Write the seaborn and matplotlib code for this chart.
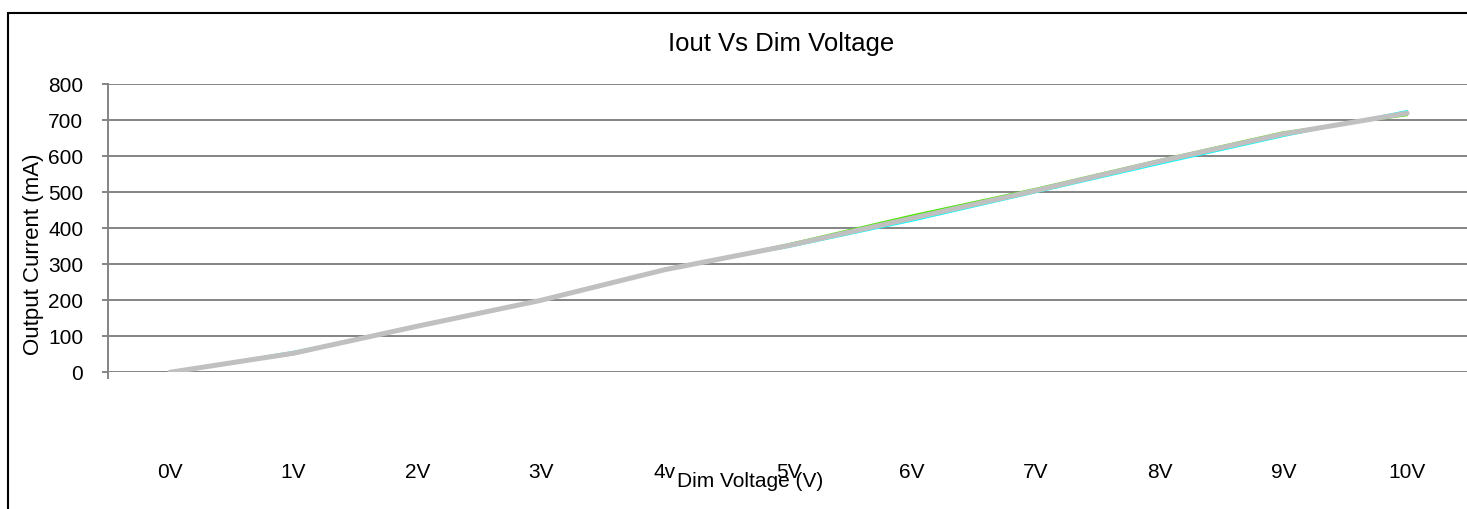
import numpy as np
import pandas as pd
import matplotlib
matplotlib.use("Agg")
import matplotlib.pyplot as plt
import matplotlib.patches as mpatches
import seaborn as sns

# ---- data ----
categories = ["0V", "1V", "2V", "3V", "4v", "5V", "6V", "7V", "8V", "9V", "10V"]
series_green = [0, 50, 131, 198, 284, 356, 436, 510, 590, 667, 714]
series_cyan = [0, 57, 126, 202, 287, 348, 421, 500, 579, 656, 726]
series_gray = [0, 53, 128, 200, 285, 352, 428, 505, 586, 662, 720]
y_ticks = [0, 100, 200, 300, 400, 500, 600, 700, 800]

sns.set_style("white")
plt.rcParams["font.family"] = ["Liberation Sans", "DejaVu Sans"]

W, H = 1467, 509
fig = plt.figure(figsize=(W / 100, H / 100), dpi=100)

# axes position in pixels
left_px, right_px, top_px, bottom_px = 108, 1469, 84.3, 372.3
ax = fig.add_axes([left_px / W, 1 - bottom_px / H,
                   (right_px - left_px) / W, (bottom_px - top_px) / H])

pos = np.arange(len(categories))
df = pd.DataFrame({"pos": pos, "green": series_green,
                   "cyan": series_cyan, "gray": series_gray})

sns.lineplot(data=df, x="pos", y="green", ax=ax, color="#4CE600", lw=1.4, zorder=3)
sns.lineplot(data=df, x="pos", y="cyan", ax=ax, color="#00FFFF", lw=1.4, zorder=4)
sns.lineplot(data=df, x="pos", y="gray", ax=ax, color="#C0C0C0", lw=3.6, zorder=5,
             solid_capstyle="round", solid_joinstyle="round")

ax.set_xlim(-0.5, len(categories) - 0.5)
ax.set_ylim(0, 800)
ax.set_yticks(y_ticks)
ax.set_yticklabels([str(v) for v in y_ticks])
ax.set_xticks(pos)
ax.set_xticklabels(categories)

grid_c = "#848484"
ax.grid(axis="y", color=grid_c, lw=1.4, zorder=1)
ax.grid(axis="x", visible=False)
for s in ["top", "right", "bottom"]:
    ax.spines[s].set_visible(False)
ax.spines["left"].set_color(grid_c)
ax.spines["left"].set_linewidth(1.4)
ax.spines["left"].set_bounds(-16, 800)

ax.tick_params(axis="y", length=4.3, width=1.4, color=grid_c, pad=13.5,
               labelsize=15, labelcolor="black", left=True)
ax.tick_params(axis="x", length=0, pad=75.9, labelsize=15, labelcolor="black")
for lab in ax.get_xticklabels():
    lab.set_va("baseline")

ax.set_xlabel("Dim Voltage (V)", fontsize=15, color="black")
ax.xaxis.set_label_coords((750 - left_px) / (right_px - left_px),
                          (bottom_px - 486.7) / (bottom_px - top_px))
ax.xaxis.label.set_va("baseline")
ax.xaxis.label.set_ha("center")

ax.set_ylabel("Output Current (mA)", fontsize=16, color="black")
ax.yaxis.set_label_coords((33 - left_px) / (right_px - left_px),
                          (bottom_px - 254) / (bottom_px - top_px))
ax.yaxis.label.set_va("center")

fig.text(781 / W, 1 - 50.7 / H, "Iout Vs Dim Voltage", fontsize=18.5,
         ha="center", va="baseline", color="black")

# chart border
border = mpatches.Rectangle((8 / W, -0.1), 1.2, 1.1 - 12.7 / H,
                            transform=fig.transFigure, fill=False,
                            ec="black", lw=1.5, clip_on=False)
fig.patches.append(border)

fig.savefig("out.png", dpi=100)
